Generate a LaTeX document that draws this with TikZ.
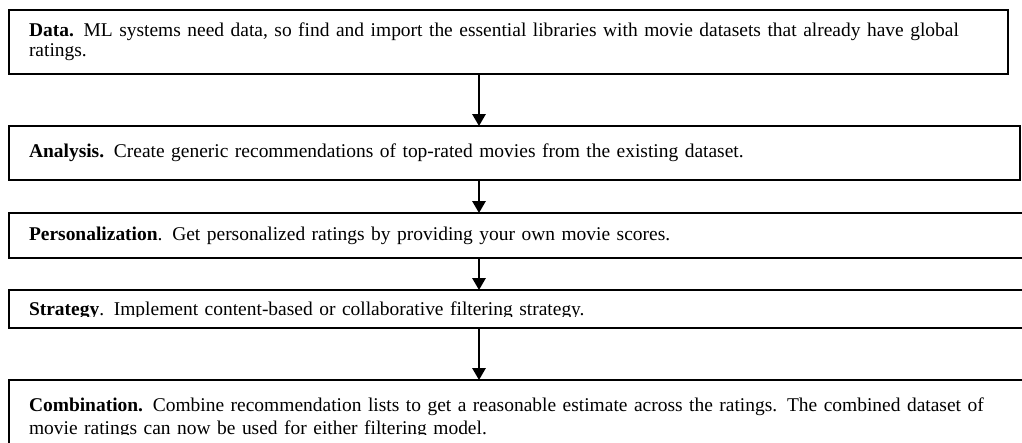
\documentclass[tikz,border=0pt]{standalone}
\usepackage{fontspec}
\setmainfont{Liberation Serif}
\usepackage{tikz}
\usetikzlibrary{arrows.meta,positioning,calc}
\definecolor{FrameBlack}{HTML}{000000}

\begin{document}
\begin{tikzpicture}[
    font=\fontsize{14.6}{15}\selectfont,
    stage/.style={rectangle, draw=FrameBlack, line width=1.8pt, outer sep=0pt, inner xsep=15pt, inner ysep=0pt, align=left},
    arrow/.style={-{Triangle[width=10pt, length=9pt]}, line width=1.5pt, draw=FrameBlack},
    mask/.style={fill=white, draw=none}
]
\useasboundingbox (0,0) rectangle (766.5pt,-332.25pt);
\coordinate (spine) at (359.25pt,0);
\coordinate (floor) at (0,-332.25pt);

\node[stage, text width=719.25pt, minimum height=48pt, anchor=north west] (data) at (6.75pt,-7.5pt)
  {\textbf{Data.} ML systems need data, so find and import the essential libraries with movie datasets that already have global\\ratings.};
\node[stage, text width=728.25pt, minimum height=40.5pt, below right=39pt and 0pt of data.south west] (analysis)
  {\textbf{Analysis.} Create generic recommendations of top-rated movies from the existing dataset.};
\node[stage, text width=742.5pt, minimum height=33.75pt, below right=24.75pt and 0pt of analysis.south west] (personal)
  {\textbf{Personalization}. Get personalized ratings by providing your own movie scores.};
\node[stage, text width=742.5pt, minimum height=28.5pt, text depth=0pt, below right=24pt and 0pt of personal.south west] (strategy)
  {\textbf{Strategy}. Implement content-based or collaborative filtering strategy.};
\node[stage, text width=742.5pt, minimum height=57pt, below right=39pt and 0pt of strategy.south west] (combine)
  {\textbf{Combination.} Combine recommendation lists to get a reasonable estimate across the ratings. The combined dataset of\\[2.25pt]movie ratings can now be used for either filtering model.};

% text cut off at the lower edge of the last two boxes
\fill[mask] ($(strategy.west |- strategy.base)+(1pt,-0.6pt)$) rectangle ($(strategy.south east)+(-1pt,0.95pt)$);
\fill[mask] ($(combine.west |- floor)+(1pt,0pt)$) rectangle ($(combine.east |- floor)+(-1pt,6pt)$);

\draw[arrow] (data.south -| spine) -- (analysis.north -| spine);
\draw[arrow] (analysis.south -| spine) -- (personal.north -| spine);
\draw[arrow] (personal.south -| spine) -- (strategy.north -| spine);
\draw[arrow] (strategy.south -| spine) -- (combine.north -| spine);
\end{tikzpicture}
\end{document}
